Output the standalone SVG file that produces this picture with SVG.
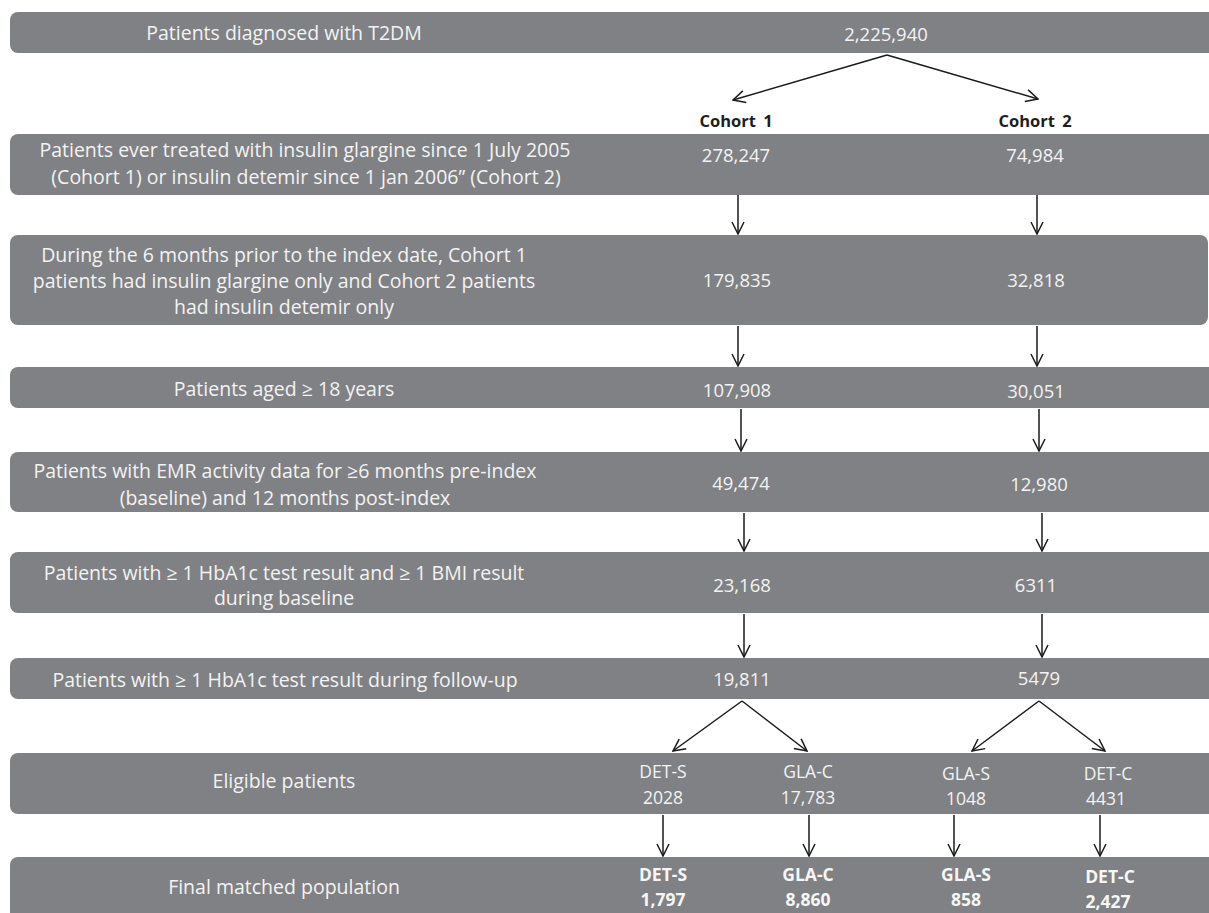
<svg xmlns="http://www.w3.org/2000/svg" width="1209" height="913" viewBox="0 0 1209 913">
<style>
.bar{fill:#808184;}
.lbl{font-family:"Open Sans","Liberation Sans",sans-serif;font-size:19.5px;fill:#f3f3f3;text-anchor:middle;}
.num{font-family:"Open Sans","Liberation Sans",sans-serif;font-size:18.5px;fill:#f3f3f3;text-anchor:middle;}
.sub{font-family:"Open Sans","Liberation Sans",sans-serif;font-size:17.5px;fill:#f3f3f3;text-anchor:middle;}
.subb{font-family:"Open Sans","Liberation Sans",sans-serif;font-size:17.5px;font-weight:bold;fill:#f6f6f6;text-anchor:middle;}
.coh{font-family:"Open Sans","Liberation Sans",sans-serif;font-size:16.5px;font-weight:bold;fill:#1e1e1e;text-anchor:middle;word-spacing:3px;}
.arr{stroke:#1a1a1a;stroke-width:1.5;fill:none;marker-end:url(#ah);}
</style>
<defs>
<marker id="ah" viewBox="0 0 14 14" refX="13" refY="7" markerWidth="14" markerHeight="14" markerUnits="userSpaceOnUse" orient="auto">
<path d="M1,1 L13,7 L1,13" fill="none" stroke="#1a1a1a" stroke-width="1.5"/>
</marker>
</defs>
<rect width="1209" height="913" fill="#ffffff"/>

<g id="row1">
<rect class="bar" x="10" y="12" width="1215" height="41" rx="8"/>
<text class="lbl" x="284" y="40">Patients diagnosed with T2DM</text>
<text class="num" x="886" y="41">2,225,940</text>
</g>

<g id="cohort-labels">
<text class="coh" x="736" y="127">Cohort 1</text>
<text class="coh" x="1035" y="127">Cohort 2</text>
</g>

<g id="row2">
<rect class="bar" x="10" y="134" width="1215" height="61" rx="8"/>
<text class="lbl" x="305" y="157">Patients ever treated with insulin glargine since 1 July 2005</text>
<text class="lbl" x="306" y="184">(Cohort 1) or insulin detemir since 1 jan 2006” (Cohort 2)</text>
<text class="num" x="736" y="162">278,247</text>
<text class="num" x="1035" y="162">74,984</text>
</g>

<g id="row3">
<rect class="bar" x="10" y="235" width="1198" height="90" rx="8"/>
<text class="lbl" x="284" y="262">During the 6 months prior to the index date, Cohort 1</text>
<text class="lbl" x="284" y="288">patients had insulin glargine only and Cohort 2 patients</text>
<text class="lbl" x="284" y="314">had insulin detemir only</text>
<text class="num" x="737" y="287">179,835</text>
<text class="num" x="1036" y="287">32,818</text>
</g>

<g id="row4">
<rect class="bar" x="10" y="367" width="1215" height="41" rx="8"/>
<text class="lbl" x="284" y="396">Patients aged ≥ 18 years</text>
<text class="num" x="737" y="397">107,908</text>
<text class="num" x="1036" y="398">30,051</text>
</g>

<g id="row5">
<rect class="bar" x="10" y="452" width="1215" height="60" rx="8"/>
<text class="lbl" x="285" y="478">Patients with EMR activity data for ≥6 months pre-index</text>
<text class="lbl" x="285" y="505">(baseline) and 12 months post-index</text>
<text class="num" x="741" y="490">49,474</text>
<text class="num" x="1039" y="491">12,980</text>
</g>

<g id="row6">
<rect class="bar" x="10" y="552" width="1215" height="61" rx="8"/>
<text class="lbl" x="284" y="580">Patients with ≥ 1 HbA1c test result and ≥ 1 BMI result</text>
<text class="lbl" x="284" y="605">during baseline</text>
<text class="num" x="742" y="592">23,168</text>
<text class="num" x="1036" y="592">6311</text>
</g>

<g id="row7">
<rect class="bar" x="10" y="658" width="1215" height="41" rx="8"/>
<text class="lbl" x="285" y="687">Patients with ≥ 1 HbA1c test result during follow-up</text>
<text class="num" x="742" y="686">19,811</text>
<text class="num" x="1039" y="685">5479</text>
</g>

<g id="row8">
<rect class="bar" x="10" y="753" width="1215" height="61" rx="8"/>
<text class="lbl" x="284" y="788">Eligible patients</text>
<text class="sub" x="663" y="778">DET-S</text>
<text class="sub" x="663" y="804">2028</text>
<text class="sub" x="808" y="778">GLA-C</text>
<text class="sub" x="808" y="804">17,783</text>
<text class="sub" x="966" y="780">GLA-S</text>
<text class="sub" x="966" y="805">1048</text>
<text class="sub" x="1108" y="780">DET-C</text>
<text class="sub" x="1106" y="805">4431</text>
</g>

<g id="row9">
<rect class="bar" x="10" y="857" width="1215" height="70" rx="8"/>
<text class="lbl" x="284" y="894">Final matched population</text>
<text class="subb" x="663" y="881">DET-S</text>
<text class="subb" x="663" y="906">1,797</text>
<text class="subb" x="808" y="881">GLA-C</text>
<text class="subb" x="808" y="906">8,860</text>
<text class="subb" x="966" y="881">GLA-S</text>
<text class="subb" x="966" y="906">858</text>
<text class="subb" x="1110" y="883">DET-C</text>
<text class="subb" x="1108" y="908">2,427</text>
</g>

<g id="connectors">
<line class="arr" x1="887" y1="55" x2="733" y2="100"/>
<line class="arr" x1="887" y1="55" x2="1038" y2="99"/>
<line class="arr" x1="738" y1="195" x2="738" y2="234"/>
<line class="arr" x1="1037" y1="195" x2="1037" y2="234"/>
<line class="arr" x1="738" y1="326" x2="738" y2="366"/>
<line class="arr" x1="1037" y1="326" x2="1037" y2="366"/>
<line class="arr" x1="741" y1="409" x2="741" y2="451"/>
<line class="arr" x1="1039" y1="409" x2="1039" y2="451"/>
<line class="arr" x1="744" y1="513" x2="744" y2="551"/>
<line class="arr" x1="1042" y1="513" x2="1042" y2="551"/>
<line class="arr" x1="744" y1="614" x2="744" y2="657"/>
<line class="arr" x1="1042" y1="614" x2="1042" y2="657"/>
<line class="arr" x1="742" y1="701" x2="673" y2="751"/>
<line class="arr" x1="742" y1="701" x2="807" y2="751"/>
<line class="arr" x1="1039" y1="701" x2="972" y2="751"/>
<line class="arr" x1="1039" y1="701" x2="1105" y2="751"/>
<line class="arr" x1="663" y1="815" x2="663" y2="856"/>
<line class="arr" x1="809" y1="815" x2="809" y2="856"/>
<line class="arr" x1="954" y1="815" x2="954" y2="856"/>
<line class="arr" x1="1100" y1="815" x2="1100" y2="856"/>
</g>
</svg>
